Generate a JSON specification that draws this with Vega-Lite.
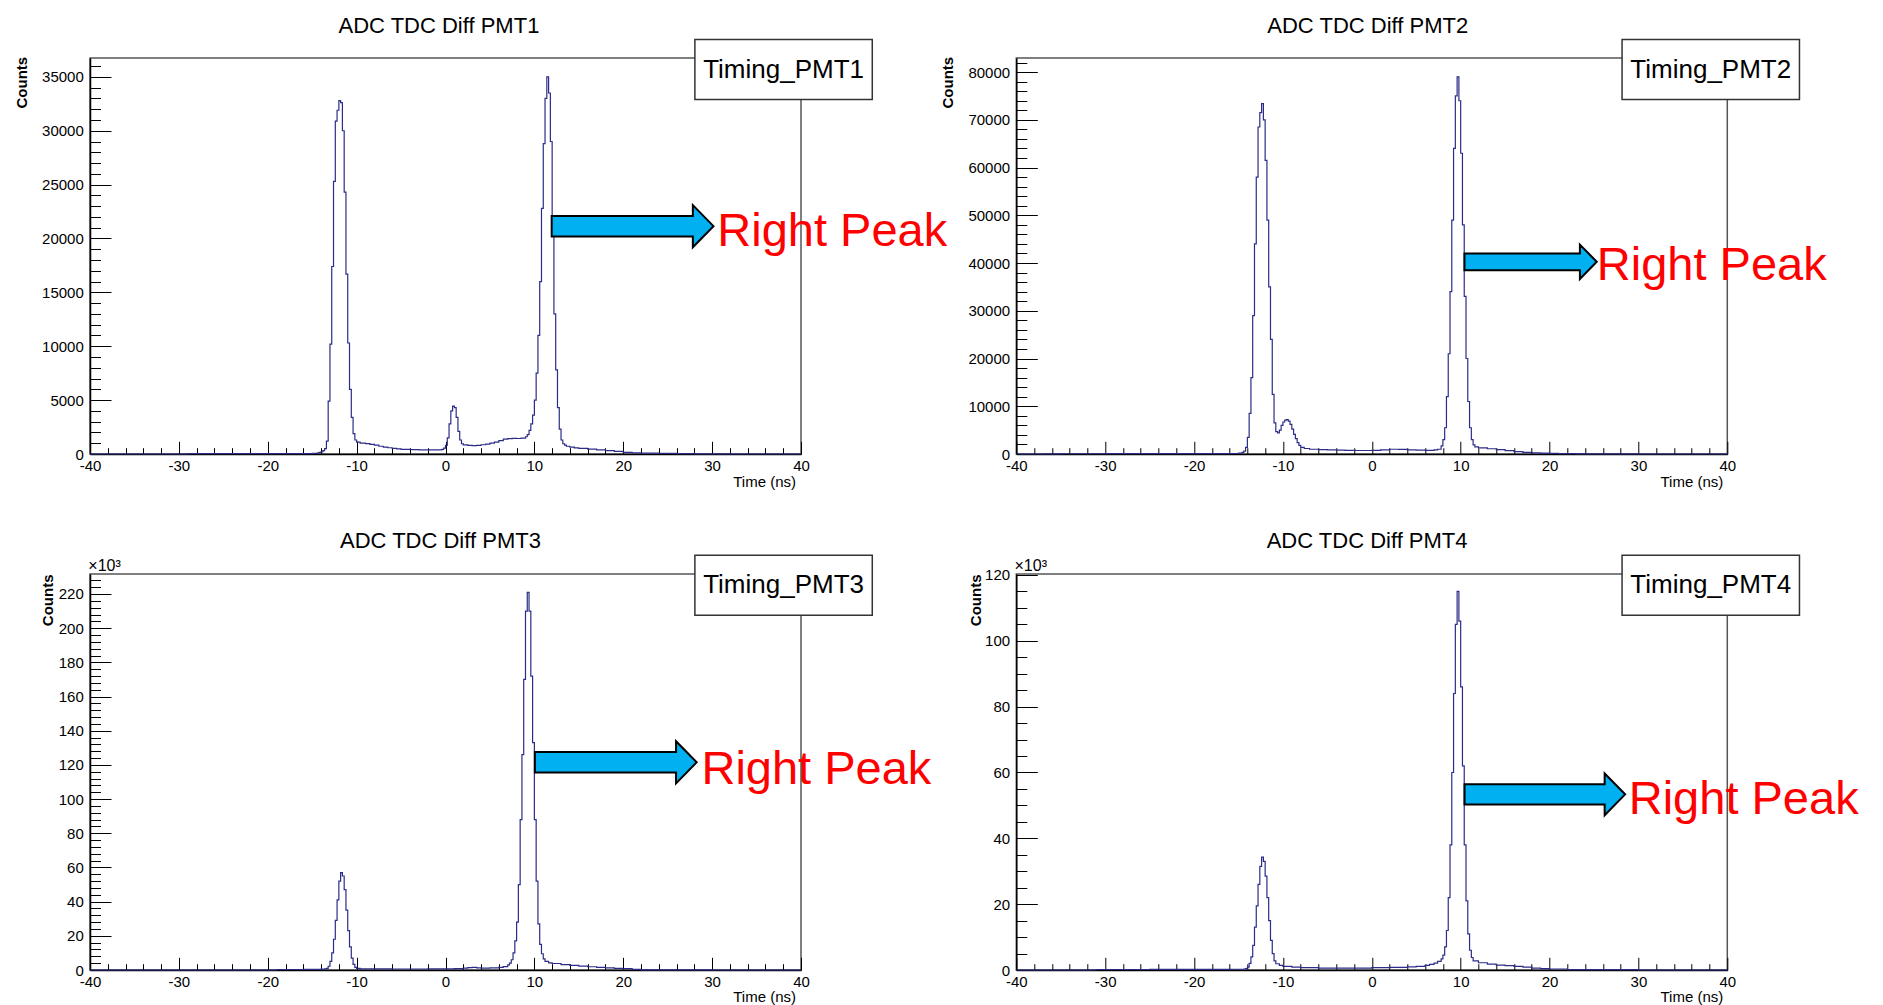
{
  "$schema": "https://vega.github.io/schema/vega-lite/v6.json",
  "background": "white",
  "autosize": {"type": "pad"},
  "padding": {"left": 13, "top": 14, "right": 5, "bottom": 0},
  "config": {
    "font": "Liberation Sans",
    "view": {"stroke": "#555555", "strokeWidth": 1.5},
    "axis": {"grid": false, "domainColor": "#000000", "domainWidth": 1.5, "tickColor": "#000000", "tickWidth": 1, "tickCount": 500, "labelColor": "#000000", "titleColor": "#000000", "labelFont": "Liberation Sans", "titleFont": "Liberation Sans", "labelFontSize": 15, "titleFontSize": 15, "labelFlush": false, "labelOverlap": false, "labelBound": false}
  },
  "datasets": {
    "pmt1": [
      {"t": -40, "counts": 0}, {"t": -30, "counts": 0}, {"t": -29, "counts": 40}, {"t": -27, "counts": 30}, {"t": -25, "counts": 30}, {"t": -20, "counts": 35}, {"t": -16, "counts": 40}, {"t": -15, "counts": 60}, {"t": -14.4, "counts": 100}, {"t": -14.2, "counts": 150},
      {"t": -14.0, "counts": 200}, {"t": -13.8, "counts": 320}, {"t": -13.6, "counts": 500}, {"t": -13.4, "counts": 1200}, {"t": -13.2, "counts": 4900}, {"t": -13.0, "counts": 10200}, {"t": -12.8, "counts": 17400}, {"t": -12.6, "counts": 25300}, {"t": -12.4, "counts": 30900}, {"t": -12.2, "counts": 31900},
      {"t": -12.0, "counts": 32800}, {"t": -11.8, "counts": 32600}, {"t": -11.6, "counts": 30000}, {"t": -11.4, "counts": 24300}, {"t": -11.2, "counts": 16700}, {"t": -11.0, "counts": 10300}, {"t": -10.8, "counts": 6000}, {"t": -10.6, "counts": 3400}, {"t": -10.4, "counts": 1900}, {"t": -10.2, "counts": 1300},
      {"t": -10.0, "counts": 1100}, {"t": -9.6, "counts": 1000}, {"t": -9.0, "counts": 960}, {"t": -8.5, "counts": 900}, {"t": -8.0, "counts": 820}, {"t": -7.5, "counts": 720}, {"t": -7.0, "counts": 640}, {"t": -6.5, "counts": 580}, {"t": -6.0, "counts": 520}, {"t": -5.5, "counts": 470},
      {"t": -5.0, "counts": 430}, {"t": -4.0, "counts": 400}, {"t": -3.0, "counts": 390}, {"t": -2.0, "counts": 380}, {"t": -1.0, "counts": 390}, {"t": -0.4, "counts": 420}, {"t": -0.2, "counts": 550}, {"t": 0.0, "counts": 800}, {"t": 0.2, "counts": 1500}, {"t": 0.4, "counts": 2800},
      {"t": 0.6, "counts": 4000}, {"t": 0.8, "counts": 4450}, {"t": 1.0, "counts": 4300}, {"t": 1.2, "counts": 3400}, {"t": 1.4, "counts": 2100}, {"t": 1.6, "counts": 1300}, {"t": 1.8, "counts": 950}, {"t": 2.0, "counts": 850}, {"t": 2.5, "counts": 800}, {"t": 3.0, "counts": 780},
      {"t": 3.5, "counts": 800}, {"t": 4.0, "counts": 860}, {"t": 4.5, "counts": 920}, {"t": 5.0, "counts": 1000}, {"t": 5.5, "counts": 1100}, {"t": 6.0, "counts": 1250}, {"t": 6.5, "counts": 1380}, {"t": 7.0, "counts": 1430}, {"t": 7.5, "counts": 1450}, {"t": 8.0, "counts": 1440},
      {"t": 8.5, "counts": 1470}, {"t": 9.0, "counts": 1600}, {"t": 9.2, "counts": 1800}, {"t": 9.4, "counts": 2200}, {"t": 9.6, "counts": 2800}, {"t": 9.8, "counts": 3600}, {"t": 10.0, "counts": 5000}, {"t": 10.2, "counts": 7500}, {"t": 10.4, "counts": 11000}, {"t": 10.6, "counts": 16000},
      {"t": 10.8, "counts": 22800}, {"t": 11.0, "counts": 28800}, {"t": 11.2, "counts": 33000}, {"t": 11.4, "counts": 35000}, {"t": 11.6, "counts": 33500}, {"t": 11.8, "counts": 29000}, {"t": 12.0, "counts": 21000}, {"t": 12.2, "counts": 13000}, {"t": 12.4, "counts": 7800}, {"t": 12.6, "counts": 4300},
      {"t": 12.8, "counts": 2300}, {"t": 13.0, "counts": 1300}, {"t": 13.2, "counts": 950}, {"t": 13.4, "counts": 820}, {"t": 13.6, "counts": 720}, {"t": 14.0, "counts": 640}, {"t": 14.5, "counts": 570}, {"t": 15.0, "counts": 520}, {"t": 16.0, "counts": 450}, {"t": 17.0, "counts": 390},
      {"t": 18.0, "counts": 320}, {"t": 19.0, "counts": 240}, {"t": 20.0, "counts": 160}, {"t": 21.0, "counts": 110}, {"t": 22.0, "counts": 80}, {"t": 24.0, "counts": 50}, {"t": 26.0, "counts": 30}, {"t": 28.0, "counts": 20}, {"t": 30.0, "counts": 10}, {"t": 32.0, "counts": 0}, {"t": 40.0, "counts": 0}
    ],
    "pmt2": [
      {"t": -40, "counts": 0}, {"t": -37, "counts": 30}, {"t": -35, "counts": 50}, {"t": -30, "counts": 60}, {"t": -25, "counts": 60}, {"t": -20, "counts": 70}, {"t": -16, "counts": 100}, {"t": -15, "counts": 200}, {"t": -14.6, "counts": 350}, {"t": -14.4, "counts": 600},
      {"t": -14.2, "counts": 1400}, {"t": -14.0, "counts": 3500}, {"t": -13.8, "counts": 8500}, {"t": -13.6, "counts": 16000}, {"t": -13.4, "counts": 29000}, {"t": -13.2, "counts": 44000}, {"t": -13.0, "counts": 58000}, {"t": -12.8, "counts": 68500}, {"t": -12.6, "counts": 71500}, {"t": -12.4, "counts": 73400},
      {"t": -12.2, "counts": 70000}, {"t": -12.0, "counts": 61500}, {"t": -11.8, "counts": 49000}, {"t": -11.6, "counts": 35000}, {"t": -11.4, "counts": 24000}, {"t": -11.2, "counts": 12500}, {"t": -11.0, "counts": 6500}, {"t": -10.8, "counts": 4700}, {"t": -10.6, "counts": 4400}, {"t": -10.4, "counts": 5000},
      {"t": -10.2, "counts": 6000}, {"t": -10.0, "counts": 6700}, {"t": -9.8, "counts": 7100}, {"t": -9.6, "counts": 7200}, {"t": -9.4, "counts": 6900}, {"t": -9.2, "counts": 6200}, {"t": -9.0, "counts": 5200}, {"t": -8.8, "counts": 4100}, {"t": -8.6, "counts": 3200}, {"t": -8.4, "counts": 2400},
      {"t": -8.2, "counts": 1800}, {"t": -8.0, "counts": 1400}, {"t": -7.6, "counts": 1150}, {"t": -7.0, "counts": 1000}, {"t": -6.0, "counts": 920}, {"t": -5.0, "counts": 860}, {"t": -4.0, "counts": 800}, {"t": -3.0, "counts": 760}, {"t": -2.0, "counts": 730}, {"t": -1.0, "counts": 730},
      {"t": 0.0, "counts": 760}, {"t": 1.0, "counts": 850}, {"t": 2.0, "counts": 1000}, {"t": 3.0, "counts": 950}, {"t": 4.0, "counts": 870}, {"t": 5.0, "counts": 800}, {"t": 6.0, "counts": 780}, {"t": 7.0, "counts": 850}, {"t": 7.4, "counts": 1000}, {"t": 7.8, "counts": 1700},
      {"t": 8.0, "counts": 3000}, {"t": 8.2, "counts": 5500}, {"t": 8.4, "counts": 12000}, {"t": 8.6, "counts": 21000}, {"t": 8.8, "counts": 34000}, {"t": 9.0, "counts": 49000}, {"t": 9.2, "counts": 64000}, {"t": 9.4, "counts": 75000}, {"t": 9.6, "counts": 79000}, {"t": 9.8, "counts": 74000},
      {"t": 10.0, "counts": 63000}, {"t": 10.2, "counts": 48000}, {"t": 10.4, "counts": 33000}, {"t": 10.6, "counts": 20000}, {"t": 10.8, "counts": 11000}, {"t": 11.0, "counts": 5500}, {"t": 11.2, "counts": 3000}, {"t": 11.4, "counts": 1900}, {"t": 11.6, "counts": 1500}, {"t": 12.0, "counts": 1300},
      {"t": 13.0, "counts": 1100}, {"t": 14.0, "counts": 900}, {"t": 15.0, "counts": 700}, {"t": 16.0, "counts": 500}, {"t": 17.0, "counts": 350}, {"t": 18.0, "counts": 250}, {"t": 19.0, "counts": 200}, {"t": 20.0, "counts": 150}, {"t": 21.0, "counts": 80}, {"t": 23.0, "counts": 40},
      {"t": 25.0, "counts": 20}, {"t": 28.0, "counts": 10}, {"t": 30.0, "counts": 0}, {"t": 40.0, "counts": 0}
    ],
    "pmt3": [
      {"t": -40, "counts": 0}, {"t": -20, "counts": 0}, {"t": -19, "counts": 300}, {"t": -16, "counts": 400}, {"t": -14, "counts": 500}, {"t": -13.6, "counts": 700}, {"t": -13.4, "counts": 1000}, {"t": -13.2, "counts": 2200}, {"t": -13.0, "counts": 5000}, {"t": -12.8, "counts": 10000},
      {"t": -12.6, "counts": 18000}, {"t": -12.4, "counts": 29000}, {"t": -12.2, "counts": 41000}, {"t": -12.0, "counts": 52000}, {"t": -11.8, "counts": 57000}, {"t": -11.6, "counts": 55000}, {"t": -11.4, "counts": 47000}, {"t": -11.2, "counts": 35000}, {"t": -11.0, "counts": 23000}, {"t": -10.8, "counts": 13500},
      {"t": -10.6, "counts": 7000}, {"t": -10.4, "counts": 3300}, {"t": -10.2, "counts": 1500}, {"t": -10.0, "counts": 900}, {"t": -9.6, "counts": 700}, {"t": -8.0, "counts": 650}, {"t": -6.0, "counts": 600}, {"t": -4.0, "counts": 600}, {"t": -2.0, "counts": 650}, {"t": 0.0, "counts": 700},
      {"t": 1.0, "counts": 800}, {"t": 2.0, "counts": 1100}, {"t": 2.5, "counts": 1400}, {"t": 3.0, "counts": 1500}, {"t": 3.5, "counts": 1300}, {"t": 4.0, "counts": 1100}, {"t": 5.0, "counts": 1200}, {"t": 6.0, "counts": 1500}, {"t": 6.5, "counts": 2000}, {"t": 7.0, "counts": 3000},
      {"t": 7.2, "counts": 4000}, {"t": 7.4, "counts": 6000}, {"t": 7.6, "counts": 10000}, {"t": 7.8, "counts": 17000}, {"t": 8.0, "counts": 28000}, {"t": 8.2, "counts": 50000}, {"t": 8.4, "counts": 88000}, {"t": 8.6, "counts": 126000}, {"t": 8.8, "counts": 170000}, {"t": 9.0, "counts": 210000},
      {"t": 9.2, "counts": 221000}, {"t": 9.4, "counts": 210000}, {"t": 9.6, "counts": 172000}, {"t": 9.8, "counts": 133000}, {"t": 10.0, "counts": 88000}, {"t": 10.2, "counts": 52000}, {"t": 10.4, "counts": 27000}, {"t": 10.6, "counts": 15000}, {"t": 10.8, "counts": 9500}, {"t": 11.0, "counts": 6500},
      {"t": 11.2, "counts": 5000}, {"t": 11.6, "counts": 4200}, {"t": 12.0, "counts": 3800}, {"t": 13.0, "counts": 3200}, {"t": 14.0, "counts": 2700}, {"t": 15.0, "counts": 2300}, {"t": 16.0, "counts": 1900}, {"t": 17.0, "counts": 1500}, {"t": 18.0, "counts": 1200}, {"t": 19.0, "counts": 1000},
      {"t": 20.0, "counts": 800}, {"t": 21.0, "counts": 400}, {"t": 22.0, "counts": 100}, {"t": 30.0, "counts": 0}, {"t": 40.0, "counts": 0}
    ],
    "pmt4": [
      {"t": -40, "counts": 0}, {"t": -32, "counts": 0}, {"t": -31, "counts": 150}, {"t": -25, "counts": 180}, {"t": -20, "counts": 200}, {"t": -16, "counts": 230}, {"t": -14.4, "counts": 300}, {"t": -14.2, "counts": 400}, {"t": -14.0, "counts": 900}, {"t": -13.8, "counts": 2000},
      {"t": -13.6, "counts": 4000}, {"t": -13.4, "counts": 7500}, {"t": -13.2, "counts": 13000}, {"t": -13.0, "counts": 19500}, {"t": -12.8, "counts": 26000}, {"t": -12.6, "counts": 31500}, {"t": -12.4, "counts": 34300}, {"t": -12.2, "counts": 33000}, {"t": -12.0, "counts": 28500}, {"t": -11.8, "counts": 22000},
      {"t": -11.6, "counts": 15000}, {"t": -11.4, "counts": 9000}, {"t": -11.2, "counts": 5000}, {"t": -11.0, "counts": 2800}, {"t": -10.8, "counts": 1900}, {"t": -10.4, "counts": 1400}, {"t": -10.0, "counts": 1100}, {"t": -9.0, "counts": 900}, {"t": -8.0, "counts": 700}, {"t": -6.0, "counts": 600},
      {"t": -4.0, "counts": 550}, {"t": -2.0, "counts": 600}, {"t": 0.0, "counts": 700}, {"t": 2.0, "counts": 800}, {"t": 4.0, "counts": 950}, {"t": 5.0, "counts": 1100}, {"t": 6.0, "counts": 1400}, {"t": 6.5, "counts": 1700}, {"t": 7.0, "counts": 2100}, {"t": 7.4, "counts": 2600},
      {"t": 7.8, "counts": 3400}, {"t": 8.0, "counts": 4500}, {"t": 8.2, "counts": 7000}, {"t": 8.4, "counts": 12000}, {"t": 8.6, "counts": 22000}, {"t": 8.8, "counts": 38000}, {"t": 9.0, "counts": 60000}, {"t": 9.2, "counts": 84000}, {"t": 9.4, "counts": 105000}, {"t": 9.6, "counts": 115000},
      {"t": 9.8, "counts": 106000}, {"t": 10.0, "counts": 86000}, {"t": 10.2, "counts": 62000}, {"t": 10.4, "counts": 38000}, {"t": 10.6, "counts": 21000}, {"t": 10.8, "counts": 11000}, {"t": 11.0, "counts": 6000}, {"t": 11.2, "counts": 3800}, {"t": 11.4, "counts": 2800}, {"t": 12.0, "counts": 2200},
      {"t": 13.0, "counts": 1800}, {"t": 14.0, "counts": 1500}, {"t": 15.0, "counts": 1300}, {"t": 16.0, "counts": 1100}, {"t": 17.0, "counts": 900}, {"t": 18.0, "counts": 600}, {"t": 19.0, "counts": 400}, {"t": 20.0, "counts": 300}, {"t": 22.0, "counts": 100}, {"t": 30.0, "counts": 0},
      {"t": 40.0, "counts": 0}
    ]
  },
  "concat": [
    {
      "width": 711, "height": 396,
      "data": {"name": "pmt1"},
      "layer": [
        {
          "mark": {"type": "line", "interpolate": "step-after", "color": "#2c2c88", "strokeWidth": 1.2},
          "encoding": {
            "x": {"field": "t", "type": "quantitative", "scale": {"domain": [-40, 40], "nice": false, "zero": false},
              "axis": {"values": [-40,-38,-36,-34,-32,-30,-28,-26,-24,-22,-20,-18,-16,-14,-12,-10,-8,-6,-4,-2,0,2,4,6,8,10,12,14,16,18,20,22,24,26,28,30,32,34,36,38,40], "tickCount": 500,
                "title": "Time (ns)", "titleX": 705.5, "titleY": 32.3, "titleAlign": "right", "titleBaseline": "alphabetic", "titleFontWeight": "normal",
                "labelExpr": "datum.value % 10 === 0 ? datum.value + '' : ''",
                "tickSize": {"condition": {"test": "datum.value % 10 === 0", "value": -12.7}, "value": -6.3},
                "labelPadding": 17}},
            "y": {"field": "counts", "type": "quantitative", "scale": {"domain": [0, 36750], "nice": false},
              "axis": {"values": [0,1000,2000,3000,4000,5000,6000,7000,8000,9000,10000,11000,12000,13000,14000,15000,16000,17000,18000,19000,20000,21000,22000,23000,24000,25000,26000,27000,28000,29000,30000,31000,32000,33000,34000,35000,36000], "tickCount": 500,
                "title": "Counts", "titleX": -68.7, "titleY": -1.7, "titleAngle": 270, "titleAlign": "right", "titleBaseline": "middle", "titleFontWeight": "bold",
                "labelExpr": "datum.value % 5000 === 0 ? datum.value + '' : ''",
                "tickSize": {"condition": {"test": "datum.value % 5000 === 0", "value": -21}, "value": -10.5},
                "labelPadding": 27.7}}
          }
        },
        {"data": {"values": [{}]}, "mark": {"type": "point", "shape": "M-1,-0.127L0.745,-0.127L0.745,-0.26L1,0L0.745,0.26L0.745,0.127L-1,0.127Z", "filled": true, "fill": "#00b0f0", "stroke": "#000000", "strokeWidth": 2, "opacity": 1, "size": 26179},
          "encoding": {"x": {"datum": 21.05}, "y": {"datum": 21145}}},
        {"data": {"values": [{}]}, "mark": {"type": "rect", "fill": "#ffffff", "stroke": "#333333", "strokeWidth": 1.5},
          "encoding": {"x": {"datum": 28.06}, "x2": {"datum": 48.02}, "y": {"datum": 38458}, "y2": {"datum": 32889}}},
        {"data": {"values": [{}]}, "mark": {"type": "text", "fontSize": 26, "align": "center", "baseline": "middle", "color": "#000000"},
          "encoding": {"x": {"datum": 38.04}, "y": {"datum": 35674}, "text": {"value": "Timing_PMT1"}}},
        {"data": {"values": [{}]}, "mark": {"type": "text", "fontSize": 22, "align": "center", "baseline": "alphabetic", "color": "#000000"},
          "encoding": {"x": {"datum": -0.74}, "y": {"datum": 39070}, "text": {"value": "ADC TDC Diff PMT1"}}},
        {"data": {"values": [{}]}, "mark": {"type": "text", "fontSize": 47, "align": "left", "baseline": "alphabetic", "color": "#ff0000"},
          "encoding": {"x": {"datum": 30.58}, "y": {"datum": 19275}, "text": {"value": "Right Peak"}}}
      ]
    },
    {
      "width": 711, "height": 396,
      "data": {"name": "pmt2"},
      "layer": [
        {
          "mark": {"type": "line", "interpolate": "step-after", "color": "#2c2c88", "strokeWidth": 1.2},
          "encoding": {
            "x": {"field": "t", "type": "quantitative", "scale": {"domain": [-40, 40], "nice": false, "zero": false},
              "axis": {"values": [-40,-38,-36,-34,-32,-30,-28,-26,-24,-22,-20,-18,-16,-14,-12,-10,-8,-6,-4,-2,0,2,4,6,8,10,12,14,16,18,20,22,24,26,28,30,32,34,36,38,40], "tickCount": 500,
                "title": "Time (ns)", "titleX": 706.5, "titleY": 32.3, "titleAlign": "right", "titleBaseline": "alphabetic", "titleFontWeight": "normal",
                "labelExpr": "datum.value % 10 === 0 ? datum.value + '' : ''",
                "tickSize": {"condition": {"test": "datum.value % 10 === 0", "value": -12.7}, "value": -6.3},
                "labelPadding": 17}},
            "y": {"field": "counts", "type": "quantitative", "scale": {"domain": [0, 82950], "nice": false},
              "axis": {"values": [0,2000,4000,6000,8000,10000,12000,14000,16000,18000,20000,22000,24000,26000,28000,30000,32000,34000,36000,38000,40000,42000,44000,46000,48000,50000,52000,54000,56000,58000,60000,62000,64000,66000,68000,70000,72000,74000,76000,78000,80000,82000], "tickCount": 500,
                "title": "Counts", "titleX": -69, "titleY": -1.7, "titleAngle": 270, "titleAlign": "right", "titleBaseline": "middle", "titleFontWeight": "bold",
                "labelExpr": "datum.value % 10000 === 0 ? datum.value + '' : ''",
                "tickSize": {"condition": {"test": "datum.value % 10000 === 0", "value": -21}, "value": -10.5},
                "labelPadding": 27.7}}
          }
        },
        {"data": {"values": [{}]}, "mark": {"type": "point", "shape": "M-1,-0.127L0.745,-0.127L0.745,-0.26L1,0L0.745,0.26L0.745,0.127L-1,0.127Z", "filled": true, "fill": "#00b0f0", "stroke": "#000000", "strokeWidth": 2, "opacity": 1, "size": 17503},
          "encoding": {"x": {"datum": 17.87}, "y": {"datum": 40260}}},
        {"data": {"values": [{}]}, "mark": {"type": "rect", "fill": "#ffffff", "stroke": "#333333", "strokeWidth": 1.5},
          "encoding": {"x": {"datum": 28.16}, "x2": {"datum": 48.12}, "y": {"datum": 86804}, "y2": {"datum": 74236}}},
        {"data": {"values": [{}]}, "mark": {"type": "text", "fontSize": 26, "align": "center", "baseline": "middle", "color": "#000000"},
          "encoding": {"x": {"datum": 38.14}, "y": {"datum": 80520}, "text": {"value": "Timing_PMT2"}}},
        {"data": {"values": [{}]}, "mark": {"type": "text", "fontSize": 22, "align": "center", "baseline": "alphabetic", "color": "#000000"},
          "encoding": {"x": {"datum": -0.46}, "y": {"datum": 88187}, "text": {"value": "ADC TDC Diff PMT2"}}},
        {"data": {"values": [{}]}, "mark": {"type": "text", "fontSize": 47, "align": "left", "baseline": "alphabetic", "color": "#ff0000"},
          "encoding": {"x": {"datum": 25.32}, "y": {"datum": 36532}, "text": {"value": "Right Peak"}}}
      ]
    },
    {
      "width": 711, "height": 396,
      "data": {"name": "pmt3"},
      "layer": [
        {
          "mark": {"type": "line", "interpolate": "step-after", "color": "#2c2c88", "strokeWidth": 1.2},
          "encoding": {
            "x": {"field": "t", "type": "quantitative", "scale": {"domain": [-40, 40], "nice": false, "zero": false},
              "axis": {"values": [-40,-38,-36,-34,-32,-30,-28,-26,-24,-22,-20,-18,-16,-14,-12,-10,-8,-6,-4,-2,0,2,4,6,8,10,12,14,16,18,20,22,24,26,28,30,32,34,36,38,40], "tickCount": 500,
                "title": "Time (ns)", "titleX": 705.5, "titleY": 31, "titleAlign": "right", "titleBaseline": "alphabetic", "titleFontWeight": "normal",
                "labelExpr": "datum.value % 10 === 0 ? datum.value + '' : ''",
                "tickSize": {"condition": {"test": "datum.value % 10 === 0", "value": -12.7}, "value": -6.3},
                "labelPadding": 17}},
            "y": {"field": "counts", "type": "quantitative", "scale": {"domain": [0, 231700], "nice": false},
              "axis": {"values": [0,4000,8000,12000,16000,20000,24000,28000,32000,36000,40000,44000,48000,52000,56000,60000,64000,68000,72000,76000,80000,84000,88000,92000,96000,100000,104000,108000,112000,116000,120000,124000,128000,132000,136000,140000,144000,148000,152000,156000,160000,164000,168000,172000,176000,180000,184000,188000,192000,196000,200000,204000,208000,212000,216000,220000,224000,228000], "tickCount": 500,
                "title": "Counts", "titleX": -42.7, "titleY": 0, "titleAngle": 270, "titleAlign": "right", "titleBaseline": "middle", "titleFontWeight": "bold",
                "labelExpr": "datum.value % 20000 === 0 ? (datum.value / 1000) + '' : ''",
                "tickSize": {"condition": {"test": "datum.value % 20000 === 0", "value": -21}, "value": -10.5},
                "labelPadding": 27.7}}
          }
        },
        {"data": {"values": [{}]}, "mark": {"type": "point", "shape": "M-1,-0.127L0.745,-0.127L0.745,-0.26L1,0L0.745,0.26L0.745,0.127L-1,0.127Z", "filled": true, "fill": "#00b0f0", "stroke": "#000000", "strokeWidth": 2, "opacity": 1, "size": 26179},
          "encoding": {"x": {"datum": 19.16}, "y": {"datum": 121496}}},
        {"data": {"values": [{}]}, "mark": {"type": "rect", "fill": "#ffffff", "stroke": "#333333", "strokeWidth": 1.5},
          "encoding": {"x": {"datum": 28.06}, "x2": {"datum": 48.02}, "y": {"datum": 242641}, "y2": {"datum": 207535}}},
        {"data": {"values": [{}]}, "mark": {"type": "text", "fontSize": 26, "align": "center", "baseline": "middle", "color": "#000000"},
          "encoding": {"x": {"datum": 38.04}, "y": {"datum": 225088}, "text": {"value": "Timing_PMT3"}}},
        {"data": {"values": [{}]}, "mark": {"type": "text", "fontSize": 22, "align": "center", "baseline": "alphabetic", "color": "#000000"},
          "encoding": {"x": {"datum": -0.57}, "y": {"datum": 247090}, "text": {"value": "ADC TDC Diff PMT3"}}},
        {"data": {"values": [{}]}, "mark": {"type": "text", "fontSize": 16, "align": "left", "baseline": "alphabetic", "color": "#000000"},
          "encoding": {"x": {"datum": -40.19}, "y": {"datum": 233455}, "text": {"value": "×10³"}}},
        {"data": {"values": [{}]}, "mark": {"type": "text", "fontSize": 47, "align": "left", "baseline": "alphabetic", "color": "#ff0000"},
          "encoding": {"x": {"datum": 28.80}, "y": {"datum": 108653}, "text": {"value": "Right Peak"}}}
      ]
    },
    {
      "width": 711, "height": 396,
      "data": {"name": "pmt4"},
      "layer": [
        {
          "mark": {"type": "line", "interpolate": "step-after", "color": "#2c2c88", "strokeWidth": 1.2},
          "encoding": {
            "x": {"field": "t", "type": "quantitative", "scale": {"domain": [-40, 40], "nice": false, "zero": false},
              "axis": {"values": [-40,-38,-36,-34,-32,-30,-28,-26,-24,-22,-20,-18,-16,-14,-12,-10,-8,-6,-4,-2,0,2,4,6,8,10,12,14,16,18,20,22,24,26,28,30,32,34,36,38,40], "tickCount": 500,
                "title": "Time (ns)", "titleX": 706.5, "titleY": 31, "titleAlign": "right", "titleBaseline": "alphabetic", "titleFontWeight": "normal",
                "labelExpr": "datum.value % 10 === 0 ? datum.value + '' : ''",
                "tickSize": {"condition": {"test": "datum.value % 10 === 0", "value": -12.7}, "value": -6.3},
                "labelPadding": 17}},
            "y": {"field": "counts", "type": "quantitative", "scale": {"domain": [0, 120300], "nice": false},
              "axis": {"values": [0,5000,10000,15000,20000,25000,30000,35000,40000,45000,50000,55000,60000,65000,70000,75000,80000,85000,90000,95000,100000,105000,110000,115000,120000], "tickCount": 500,
                "title": "Counts", "titleX": -40.7, "titleY": 0, "titleAngle": 270, "titleAlign": "right", "titleBaseline": "middle", "titleFontWeight": "bold",
                "labelExpr": "datum.value % 20000 === 0 ? (datum.value / 1000) + '' : ''",
                "tickSize": {"condition": {"test": "datum.value % 20000 === 0", "value": -21}, "value": -10.5},
                "labelPadding": 27.7}}
          }
        },
        {"data": {"values": [{}]}, "mark": {"type": "point", "shape": "M-1,-0.127L0.745,-0.127L0.745,-0.26L1,0L0.745,0.26L0.745,0.127L-1,0.127Z", "filled": true, "fill": "#00b0f0", "stroke": "#000000", "strokeWidth": 2, "opacity": 1, "size": 25792},
          "encoding": {"x": {"datum": 19.47}, "y": {"datum": 53361}}},
        {"data": {"values": [{}]}, "mark": {"type": "rect", "fill": "#ffffff", "stroke": "#333333", "strokeWidth": 1.5},
          "encoding": {"x": {"datum": 28.16}, "x2": {"datum": 48.12}, "y": {"datum": 125982}, "y2": {"datum": 107754}}},
        {"data": {"values": [{}]}, "mark": {"type": "text", "fontSize": 26, "align": "center", "baseline": "middle", "color": "#000000"},
          "encoding": {"x": {"datum": 38.14}, "y": {"datum": 116868}, "text": {"value": "Timing_PMT4"}}},
        {"data": {"values": [{}]}, "mark": {"type": "text", "fontSize": 22, "align": "center", "baseline": "alphabetic", "color": "#000000"},
          "encoding": {"x": {"datum": -0.53}, "y": {"datum": 128291}, "text": {"value": "ADC TDC Diff PMT4"}}},
        {"data": {"values": [{}]}, "mark": {"type": "text", "fontSize": 16, "align": "left", "baseline": "alphabetic", "color": "#000000"},
          "encoding": {"x": {"datum": -40.2}, "y": {"datum": 121212}, "text": {"value": "×10³"}}},
        {"data": {"values": [{}]}, "mark": {"type": "text", "fontSize": 47, "align": "left", "baseline": "alphabetic", "color": "#ff0000"},
          "encoding": {"x": {"datum": 28.91}, "y": {"datum": 47300}, "text": {"value": "Right Peak"}}}
      ]
    }
  ],
  "columns": 2,
  "spacing": {"row": 120, "column": 215.3},
  "bounds": "flush"
}
